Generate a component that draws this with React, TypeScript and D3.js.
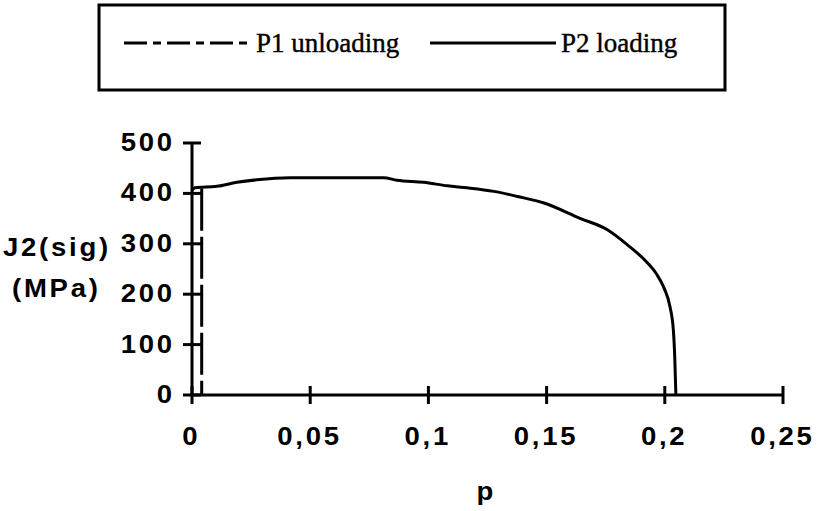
import React from "react";
import * as d3 from "d3";

// P2 loading curve (plastic strain p, J2 in MPa)
const p2P = [0, 0.0013, 0.0105, 0.019, 0.0274, 0.0415, 0.081, 0.0867, 0.098, 0.108, 0.1164, 0.1277, 0.1376, 0.1489, 0.1644, 0.1757, 0.1842, 0.1927, 0.1965, 0.1997, 0.2022, 0.2036, 0.2042, 0.2047];
const p2J = [406, 411, 414, 422, 427, 431, 431, 426, 422, 415, 411, 404, 394, 381, 350, 328, 298, 262, 240, 212, 175, 130, 76, 0];
// P1 unloading
const p1P = [0.0041, 0.0041];
const p1J = [409, 0];

const xTicks = [0, 0.05, 0.1, 0.15, 0.2, 0.25];
const xTickLabels = ["0", "0,05", "0,1", "0,15", "0,2", "0,25"];
const yTicks = [0, 100, 200, 300, 400, 500];
const yTickLabels = ["0", "100", "200", "300", "400", "500"];
const seriesNames = ["P1 unloading", "P2 loading"];

const W = 823;
const H = 511;

export default function App() {
  const x = d3.scaleLinear().domain([0, 0.25]).range([192, 783]);
  const y = d3.scaleLinear().domain([0, 500]).range([395, 143]);
  const line = d3
    .line<[number, number]>()
    .x((d) => x(d[0]))
    .y((d) => y(d[1]))
    .curve(d3.curveMonotoneX);
  const lineLin = d3
    .line<[number, number]>()
    .x((d) => x(d[0]))
    .y((d) => y(d[1]));
  const p2 = p2P.map((p, i) => [p, p2J[i]] as [number, number]);
  const p1 = p1P.map((p, i) => [p, p1J[i]] as [number, number]);

  const sans = "'Liberation Sans', Arial, sans-serif";
  const serif = "'Liberation Serif', 'Times New Roman', serif";
  const sx = 1.1;
  const ls = 2.5;
  const lab = (
    key: string,
    tx: number,
    ty: number,
    txt: string,
    anchor: "start" | "middle" | "end"
  ) => {
    // compensate trailing letter-spacing for end/middle anchors
    const shift = anchor === "end" ? ls * sx : anchor === "middle" ? (ls * sx) / 2 : 0;
    return (
      <text
        key={key}
        transform={`translate(${tx + shift},${ty}) scale(${sx},1)`}
        textAnchor={anchor}
        fontFamily={sans}
        fontWeight="bold"
        fontSize={25}
        letterSpacing={ls}
        fill="#000"
      >
        {txt}
      </text>
    );
  };

  return (
    <svg
      width={W}
      height={H}
      style={{ position: "absolute", left: 0, top: 0, background: "#fff" }}
    >
      <rect x={0} y={0} width={W} height={H} fill="#fff" />
      {/* Legend */}
      <rect x={99} y={5} width={626} height={85} fill="none" stroke="#000" strokeWidth={3} />
      <line x1={124} x2={250} y1={43} y2={43} stroke="#000" strokeWidth={3} strokeDasharray="23,6,8,6" />
      <text x={256} y={52} fontFamily={serif} fontSize={27} fill="#000" stroke="#000" strokeWidth={0.4}>
        {seriesNames[0]}
      </text>
      <line x1={430} x2={556} y1={43} y2={43} stroke="#000" strokeWidth={3} />
      <text x={561} y={52} fontFamily={serif} fontSize={27} fill="#000" stroke="#000" strokeWidth={0.4}>
        {seriesNames[1]}
      </text>

      {/* Axes */}
      <line x1={x(0)} x2={x(0)} y1={y(0)} y2={y(500)} stroke="#000" strokeWidth={3} />
      <line x1={x(0)} x2={x(0.25)} y1={y(0)} y2={y(0)} stroke="#000" strokeWidth={3} />
      {yTicks.map((t) => (
        <line key={"yt" + t} x1={x(0) - 9} x2={x(0) + 9} y1={y(t)} y2={y(t)} stroke="#000" strokeWidth={3} />
      ))}
      {xTicks.map((t) => (
        <line key={"xt" + t} x1={x(t)} x2={x(t)} y1={y(0) - 9} y2={y(0) + 9} stroke="#000" strokeWidth={3} />
      ))}
      {yTicks.map((t, i) => lab("yl" + t, 172, y(t) + 8, yTickLabels[i], "end"))}
      {xTicks.map((t, i) => lab("xl" + t, x(t) - 2, 445, xTickLabels[i], "middle"))}
      {lab("ya1", 3, 256, "J2(sig)", "start")}
      {lab("ya2", 12, 297, "(MPa)", "start")}
      {lab("xa", 485, 500, "p", "middle")}

      {/* Series */}
      <path d={lineLin(p1) || ""} fill="none" stroke="#000" strokeWidth={3} strokeDasharray="42,6" />
      <path d={line(p2) || ""} fill="none" stroke="#000" strokeWidth={3} />
    </svg>
  );
}
